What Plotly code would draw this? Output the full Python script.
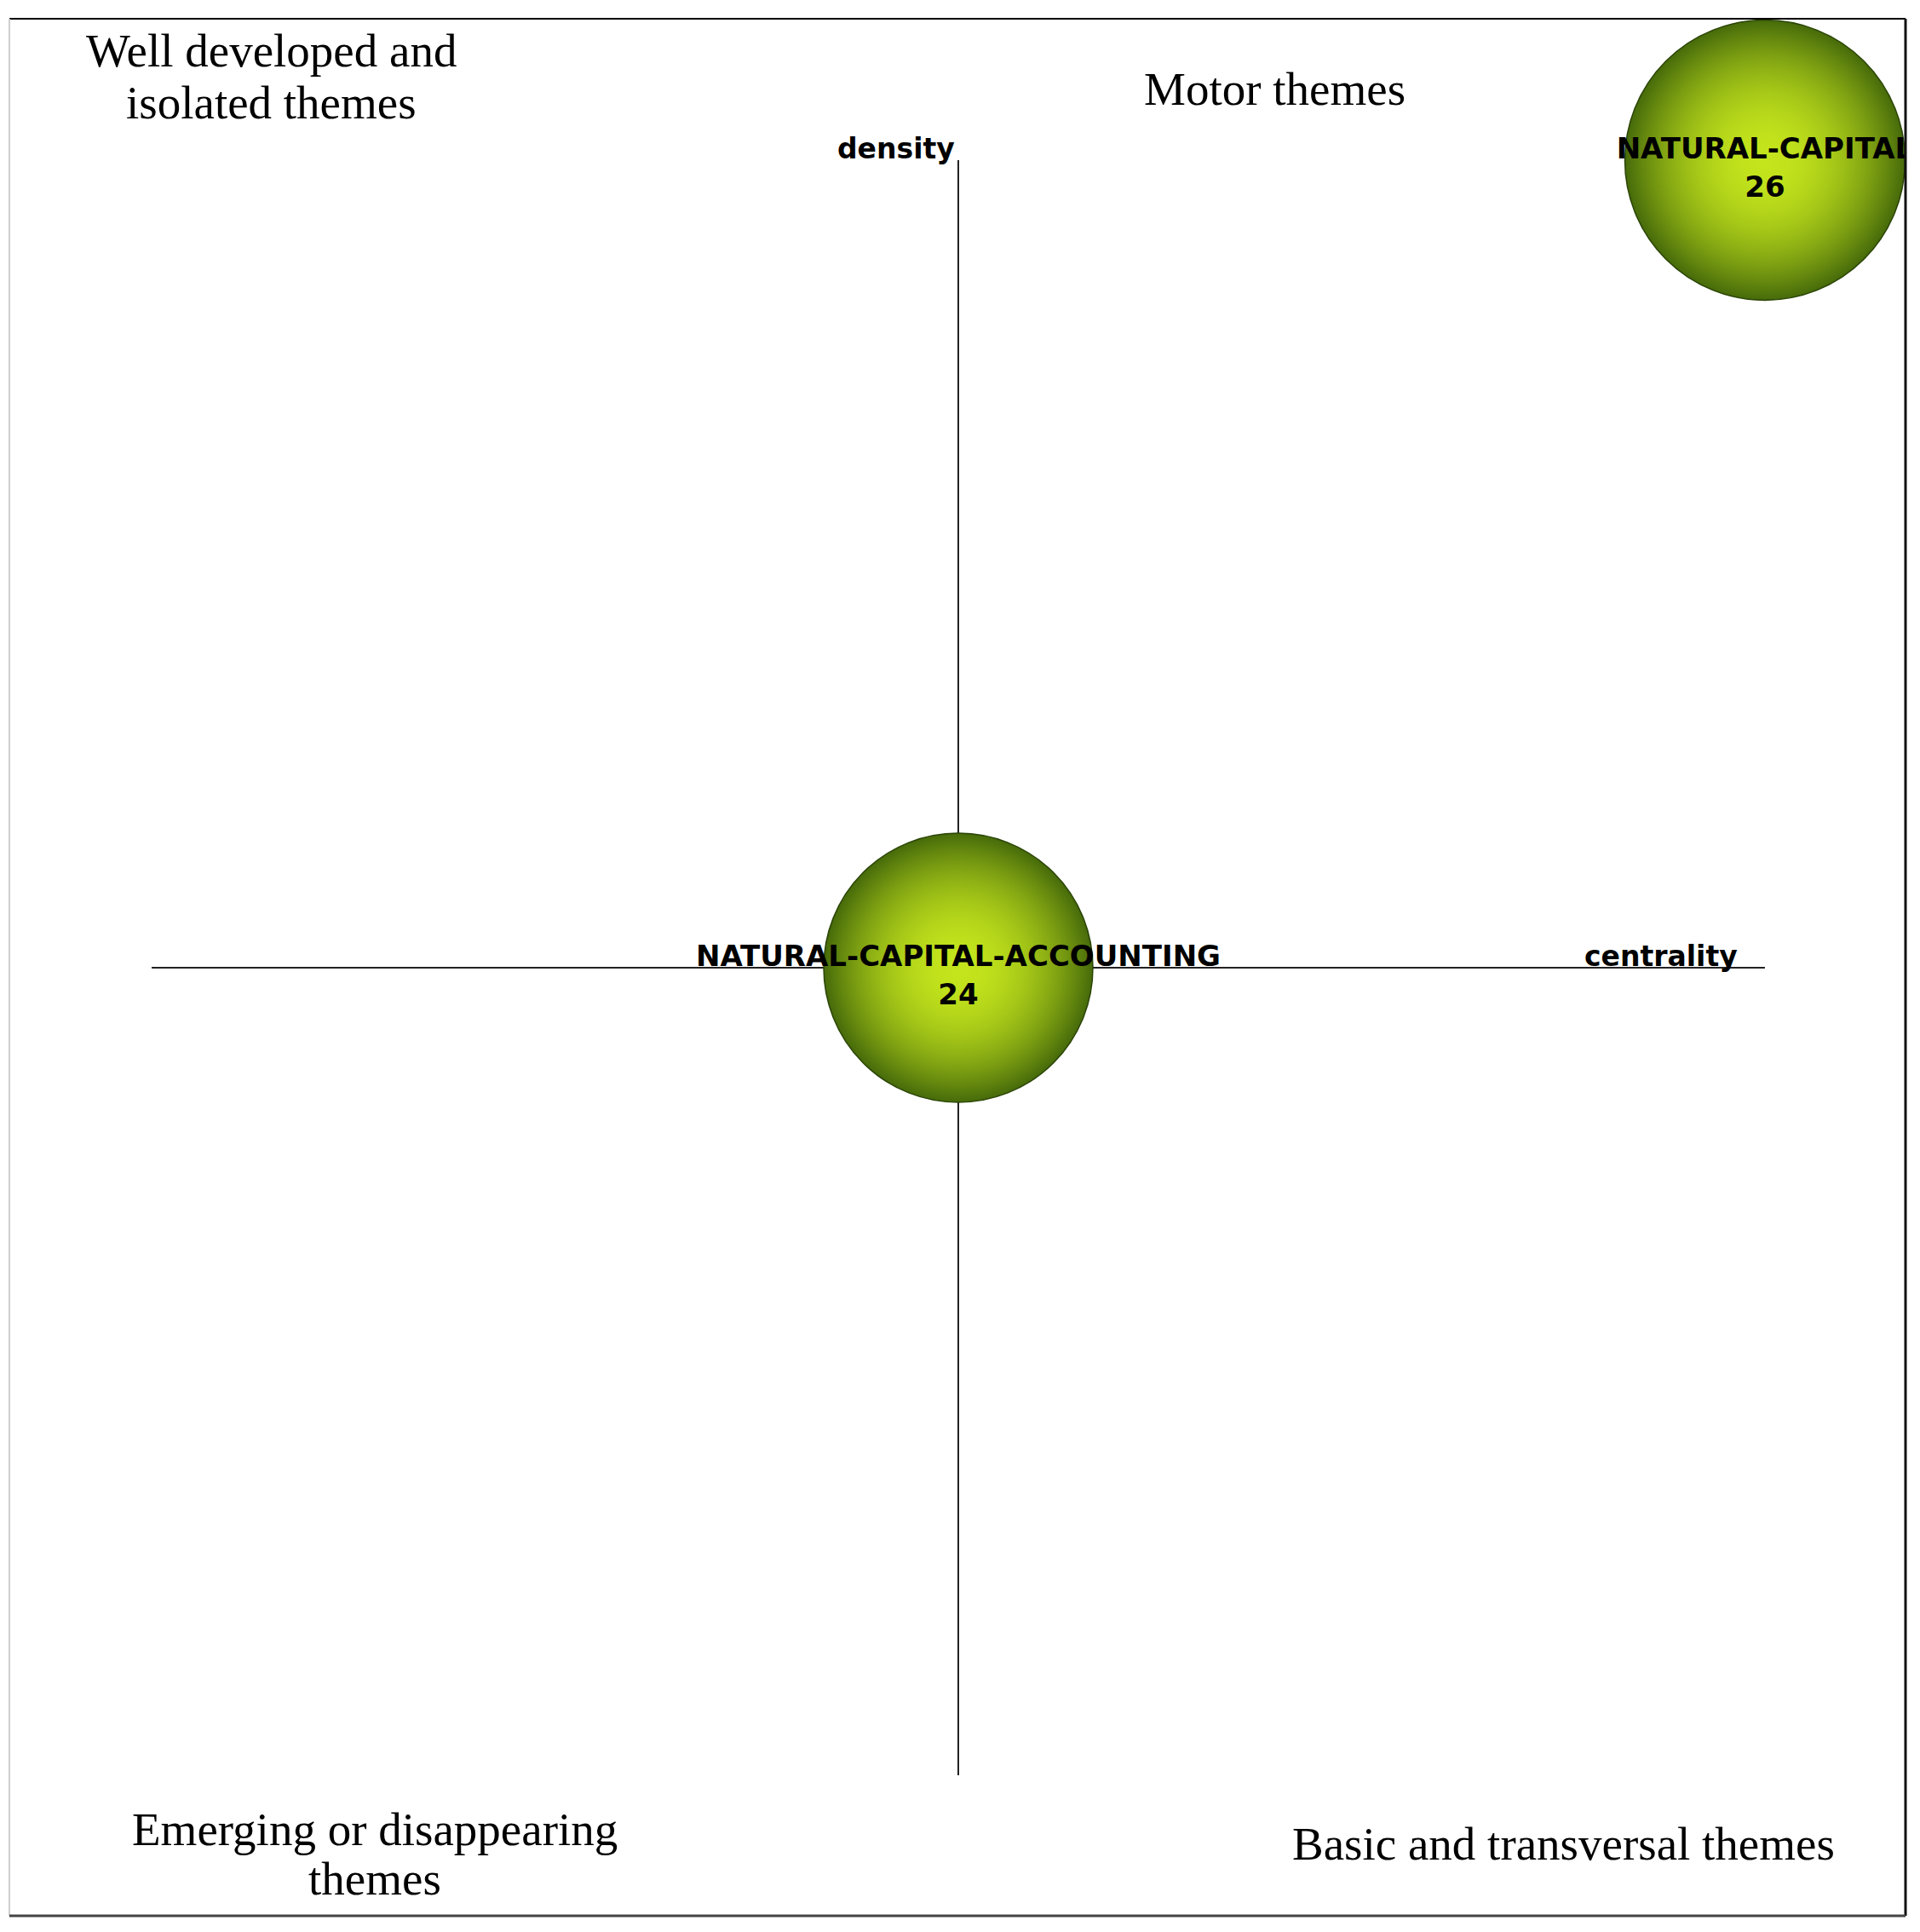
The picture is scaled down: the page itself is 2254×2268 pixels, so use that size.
import plotly.graph_objects as go

# strategic diagram data (centrality / density are rank positions, -1..1)
themes = ["NATURAL-CAPITAL", "NATURAL-CAPITAL-ACCOUNTING"]
counts = [26, 24]
centrality = [1.0, 0.0]
density = [1.0, 0.0]

quadrant_lines = [
    ["Well developed and", "isolated themes"],
    ["Motor themes"],
    ["Emerging or disappearing", "themes"],
    ["Basic and transversal themes"],
]
axis_names = ["centrality", "density"]

# page body has an 8px margin, so the figure is made 16px smaller
PAGE = 8
W, H = 2254 - 2 * PAGE, 2268 - 2 * PAGE
# plot area in screen pixels
PX0, PX1, PY0, PY1 = 11, 2237, 22, 2249
L, T = PX0 - PAGE, PY0 - PAGE
R, B = (W + PAGE) - PX1, (H + PAGE) - PY1
x_rng = [-1.1764, 1.1743]
y_rng = [-1.174, 1.1751]
# labels sit a little below the bubble centre (~12px)
lbl_drop = 12 / ((PY1 - PY0) / (y_rng[1] - y_rng[0]))

bright = "rgb(196,229,28)"
rim = "#466a0a"
sref = 2 * 24 / 316 ** 2

fig = go.Figure()

# base sphere: bright centre -> dark rim
fig.add_trace(go.Scatter(
    x=centrality,
    y=density,
    mode="markers",
    marker=dict(
        size=counts,
        sizemode="area",
        sizeref=sref,
        color=rim,
        gradient=dict(type="radial", color=bright),
        line=dict(color="#2a4406", width=1.5),
        opacity=1,
    ),
    hoverinfo="skip",
    showlegend=False,
))
# highlight layer fading out, keeps the middle bright
fig.add_trace(go.Scatter(
    x=centrality,
    y=density,
    mode="markers",
    marker=dict(
        size=counts,
        sizemode="area",
        sizeref=sref,
        color="rgba(196,229,28,0)",
        gradient=dict(type="radial", color=bright),
        line=dict(width=0),
        opacity=1,
    ),
    hoverinfo="skip",
    showlegend=False,
))
# theme name + document count
fig.add_trace(go.Scatter(
    x=centrality,
    y=density,
    yaxis="y2",
    mode="text",
    text=[f"{t}<br>{c}" for t, c in zip(themes, counts)],
    textposition="middle center",
    textfont=dict(family="DejaVu Sans", size=34, color="black", weight="bold"),
    hoverinfo="skip",
    showlegend=False,
))

# cross axes from -1 to 1
fig.add_shape(type="line", xref="x", yref="y", x0=-1, x1=1, y0=0, y1=0,
              line=dict(color="#222", width=2), layer="below")
fig.add_shape(type="line", xref="x", yref="y", x0=0, x1=0, y0=-1, y1=1,
              line=dict(color="#222", width=2), layer="below")

# frame around the plot area
fig.add_shape(type="line", xref="paper", yref="paper", x0=0, x1=1, y0=1, y1=1,
              line=dict(color="black", width=2))
fig.add_shape(type="line", xref="paper", yref="paper", x0=0, x1=0, y0=0, y1=1,
              line=dict(color="#cfcfcf", width=2))
fig.add_shape(type="line", xref="paper", yref="paper", x0=1, x1=1, y0=0, y1=1,
              line=dict(color="#111", width=3))
fig.add_shape(type="line", xref="paper", yref="paper", x0=0, x1=1, y0=0, y1=0,
              line=dict(color="#444", width=3))


def px_to_paper(px, py):
    return (px - PX0) / (PX1 - PX0), (PY1 - py) / (PY1 - PY0)


# quadrant label line centres, in screen pixels
quad_pos = [
    [(318, 60), (318, 120)],
    [(1496, 105)],
    [(440, 2147), (440, 2205)],
    [(1835, 2164)],
]
for lines, poss in zip(quadrant_lines, quad_pos):
    for txt, (px, py) in zip(lines, poss):
        xp, yp = px_to_paper(px, py)
        fig.add_annotation(x=xp, y=yp, xref="paper", yref="paper", text=txt,
                           showarrow=False, xanchor="center", yanchor="middle",
                           font=dict(family="Liberation Serif", size=55, color="black"))

bold = dict(family="DejaVu Sans", size=33, color="black", weight="bold")
fig.add_annotation(x=1, y=0, xref="x", yref="y", text=axis_names[0], showarrow=False,
                   xanchor="right", yanchor="middle", xshift=-30, yshift=14, font=bold)
fig.add_annotation(x=0, y=1, xref="x", yref="y", text=axis_names[1], showarrow=False,
                   xanchor="right", yanchor="middle", xshift=-2, yshift=14, font=bold)

fig.update_xaxes(range=x_rng, visible=False, showgrid=False, zeroline=False)
fig.update_yaxes(range=y_rng, visible=False, showgrid=False, zeroline=False)
fig.update_layout(
    width=W, height=H,
    margin=dict(l=L, r=R, t=T, b=B),
    paper_bgcolor="white",
    plot_bgcolor="white",
    showlegend=False,
    yaxis2=dict(overlaying="y", range=[y_rng[0] + lbl_drop, y_rng[1] + lbl_drop],
                visible=False, showgrid=False, zeroline=False),
)

fig.write_html("out.html")
